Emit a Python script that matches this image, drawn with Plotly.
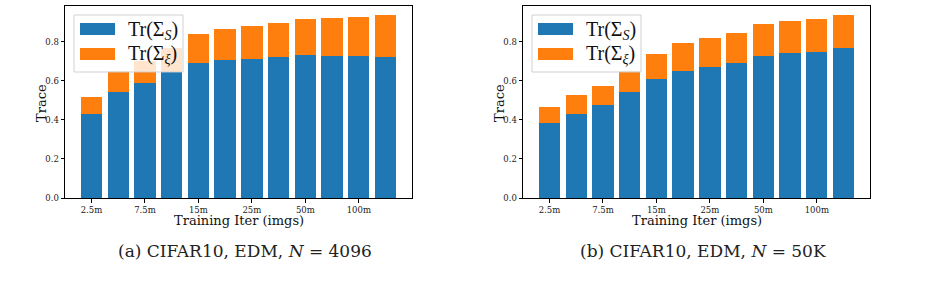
import plotly.graph_objects as go

W, H = 938, 294

# ---- data ----
positions = list(range(12))
tick_positions = [0, 2, 4, 6, 8, 10]
tick_labels = ["2.5m", "7.5m", "15m", "25m", "50m", "100m"]

trS_a = [0.427, 0.540, 0.588, 0.645, 0.690, 0.704, 0.709, 0.720, 0.732, 0.725, 0.725, 0.720]
trXi_a = [0.088, 0.108, 0.111, 0.121, 0.148, 0.159, 0.170, 0.174, 0.183, 0.195, 0.200, 0.215]

trS_b = [0.381, 0.432, 0.474, 0.540, 0.607, 0.648, 0.668, 0.689, 0.725, 0.740, 0.745, 0.766]
trXi_b = [0.082, 0.093, 0.097, 0.108, 0.128, 0.143, 0.149, 0.154, 0.164, 0.164, 0.170, 0.169]

captions = ["(a) CIFAR10, EDM, <i>N</i> = 4096", "(b) CIFAR10, EDM, <i>N</i> = 50K"]
legend_labels = ["Tr(Σ<sub><i>S</i></sub>)", "Tr(Σ<sub><i>ξ</i></sub>)"]

BLUE = "#1f77b4"
ORANGE = "#ff7f0e"
SERIF = "DejaVu Serif"
CAP_FONT = "DejaVu Serif"
LEG_FONT = "Liberation Serif"

# ---- layout geometry (pixels) ----
ax_left = [65, 523]
ax_w = 347
ax_top, ax_bot = 6, 198


def px(x):
    return x / W


def py(y):
    return 1 - y / H


fig = go.Figure()
panels = [(trS_a, trXi_a), (trS_b, trXi_b)]
shapes = []
annotations = []
for i, (s, xi) in enumerate(panels):
    xa = "x" if i == 0 else "x2"
    ya = "y" if i == 0 else "y2"
    fig.add_trace(go.Bar(x=positions, y=s, marker_color=BLUE, width=0.8,
                         marker_line_width=0, xaxis=xa, yaxis=ya, showlegend=False))
    fig.add_trace(go.Bar(x=positions, y=xi, marker_color=ORANGE, width=0.8,
                         marker_line_width=0, xaxis=xa, yaxis=ya, showlegend=False))
    tot = max(a + b for a, b in zip(s, xi))
    axis_common = dict(showline=True, mirror=True, linecolor="black", linewidth=1,
                       showgrid=False, zeroline=False, ticks="outside", ticklen=3.5,
                       tickwidth=0.8, tickcolor="black", automargin=False,
                       tickfont=dict(family=SERIF, size=8.5, color="#222"))
    L = ax_left[i]
    xkey = "xaxis" if i == 0 else "xaxis2"
    ykey = "yaxis" if i == 0 else "yaxis2"
    fig.update_layout(**{
        xkey: dict(domain=[px(L), px(L + ax_w)], range=[-0.99, 11.99],
                   tickvals=tick_positions, ticktext=tick_labels,
                   anchor=ya, **axis_common),
        ykey: dict(domain=[py(ax_bot), py(ax_top)], range=[0, tot * 1.05],
                   tickvals=[0, 0.2, 0.4, 0.6, 0.8], tickformat=".1f",
                   anchor=xa, **axis_common),
    })
    # axis titles
    annotations.append(dict(x=px(L + ax_w / 2), y=py(221), xref="paper", yref="paper",
                            text="Training Iter (imgs)", showarrow=False,
                            font=dict(family=SERIF, size=13, color="#111"),
                            xanchor="center", yanchor="middle"))
    annotations.append(dict(x=px(L - 24), y=py(103), xref="paper", yref="paper",
                            text="Trace", showarrow=False, textangle=-90,
                            font=dict(family=SERIF, size=13, color="#111"),
                            xanchor="center", yanchor="middle"))
    # caption
    annotations.append(dict(x=px(L + ax_w / 2 + 6), y=py(251), xref="paper", yref="paper",
                            text=captions[i], showarrow=False,
                            font=dict(family=CAP_FONT, size=17, color="#222"),
                            xanchor="center", yanchor="middle"))
    # legend box
    shapes.append(dict(type="rect", xref="paper", yref="paper",
                       x0=px(L + 9), x1=px(L + 118), y0=py(72), y1=py(15),
                       fillcolor="rgba(255,255,255,0.8)",
                       line=dict(color="rgba(204,204,204,0.9)", width=1), layer="above"))
    for j, (col, cy) in enumerate([(BLUE, 29), (ORANGE, 54)]):
        shapes.append(dict(type="rect", xref="paper", yref="paper",
                           x0=px(L + 15), x1=px(L + 50), y0=py(cy + 6), y1=py(cy - 6),
                           fillcolor=col, line=dict(width=0), layer="above"))
        annotations.append(dict(x=px(L + 61), y=py(cy + 1), xref="paper", yref="paper",
                                text=legend_labels[j], showarrow=False,
                                font=dict(family=LEG_FONT, size=20, color="#111"),
                                xanchor="left", yanchor="middle"))

fig.update_layout(
    width=W, height=H, barmode="stack", bargap=0,
    margin=dict(l=0, r=0, t=0, b=0),
    paper_bgcolor="white", plot_bgcolor="white",
    shapes=shapes, annotations=annotations,
)

fig.write_html("out.html")
